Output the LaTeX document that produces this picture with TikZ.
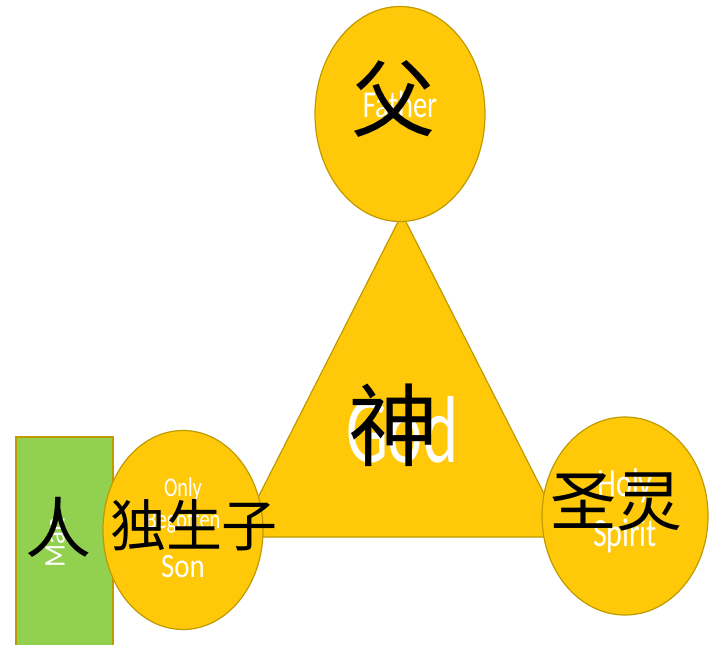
\documentclass[tikz,border=0pt]{standalone}
\usepackage{fontspec}
\setmainfont{Carlito}
\newfontfamily\cjk{Noto Sans CJK SC}
\usetikzlibrary{shapes.geometric}
\definecolor{gold}{HTML}{FFC90A}
\definecolor{goldline}{HTML}{BF9A00}
\definecolor{leaf}{HTML}{92D050}
\tikzset{
  blob/.style={ellipse, draw=goldline, fill=gold, line width=1.2pt, inner sep=0pt},
  eng/.style={text=white, inner sep=0pt, anchor=center},
  zh/.style={text=black, inner sep=0pt, anchor=center, font=\cjk},
}
\newcommand{\cond}[2][0.75]{\scalebox{#1}[1]{#2}}
\begin{document}
\begin{tikzpicture}[x=1pt,y=-1pt]
\useasboundingbox (0,0) rectangle (713,645);
% Man rectangle
\draw[draw=goldline, fill=leaf, line width=1.2pt] (16,437) rectangle (113,646);
% triangle
\coordinate (apex) at (402,214);
\coordinate (bl) at (238,537);
\coordinate (br) at (566,537);
\draw[draw=goldline, fill=gold, line width=1.2pt] (apex) -- (br) -- (bl) -- cycle;
% ellipses
\node[blob, minimum width=170pt, minimum height=215pt] (father) at (400,114) {};
\node[blob, minimum width=160pt, minimum height=199pt] (son) at (183,530) {};
\node[blob, minimum width=166pt, minimum height=198pt] (spirit) at (625,516) {};
% English labels
\node[eng, font=\fontsize{38}{38}\selectfont] (tfather) at (400,104) {\cond{Father}};
\node[eng, font=\fontsize{95}{95}\selectfont] (tgod) at (402,430) {\cond[0.7]{God}};
\node[eng, font=\fontsize{27}{27}\selectfont] (tonly) at (183,489) {\cond{Only}};
\node[eng, font=\fontsize{27}{27}\selectfont] (tbeg) at (183,522) {\cond{Begotten}};
\node[eng, font=\fontsize{34}{34}\selectfont] (tson) at (183,567) {\cond[0.85]{Son}};
\node[eng, font=\fontsize{40}{40}\selectfont] (tholy) at (625,486) {\cond{Holy}};
\node[eng, font=\fontsize{40}{40}\selectfont] (tspirit) at (625,536) {\cond{Spirit}};
\node[eng, font=\fontsize{30}{30}\selectfont, rotate=90] (tman) at (55,542) {\cond[0.9]{Man}};
% Chinese labels
\node[zh, font=\cjk\fontsize{84}{84}\selectfont] (cfather) at (393,99) {父};
\node[zh, font=\cjk\fontsize{90}{90}\selectfont] (cgod) at (393,425) {神};
\node[zh, font=\cjk\fontsize{66}{66}\selectfont] (cman) at (59,527) {人};
\node[zh, font=\cjk\fontsize{56}{56}\selectfont] (cson) at (194,525) {独生子};
\node[zh, font=\cjk\fontsize{66}{66}\selectfont] (cspirit) at (616,502) {圣灵};
\end{tikzpicture}
\end{document}
